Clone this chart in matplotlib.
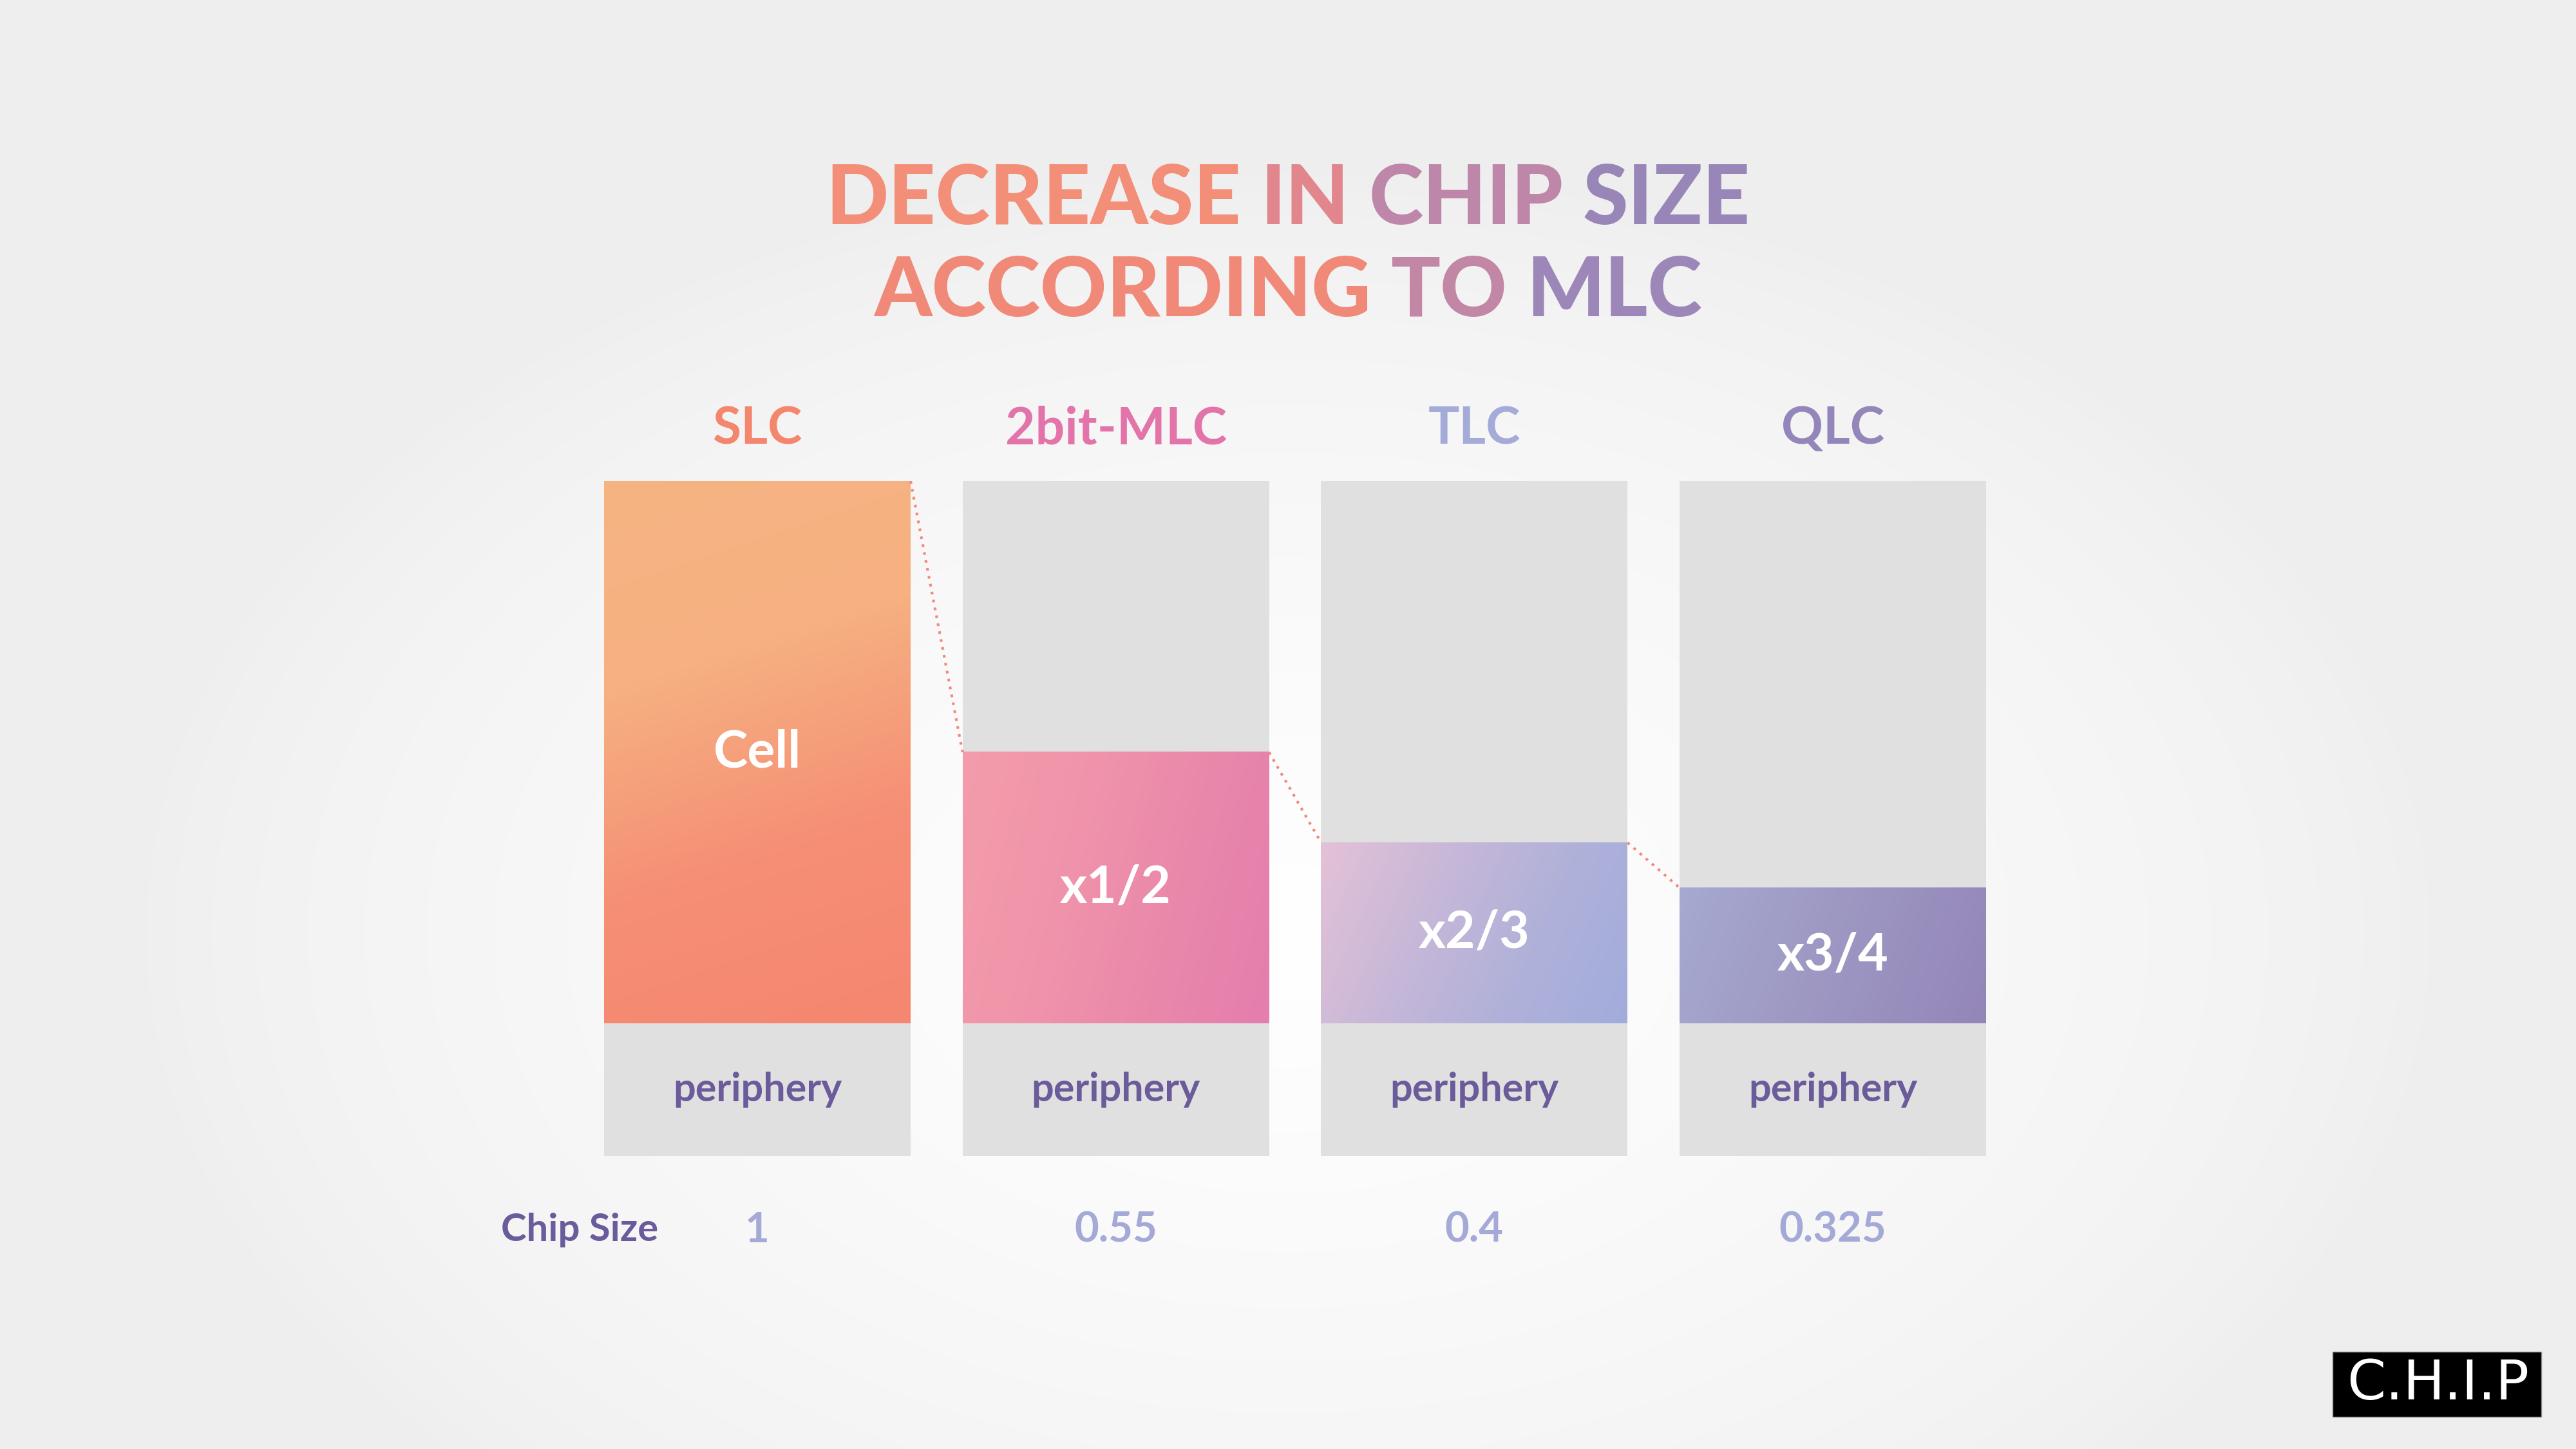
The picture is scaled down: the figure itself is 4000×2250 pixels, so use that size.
import numpy as np
import matplotlib.pyplot as plt
from matplotlib.colors import LinearSegmentedColormap, to_rgb
from matplotlib.patches import Rectangle

# data
cell_types = ['SLC', '2bit-MLC', 'TLC', 'QLC']
cell_labels = ['Cell', 'x1/2', 'x2/3', 'x3/4']
chip_size = [1, 0.55, 0.4, 0.325]
periphery = 0.1
cell_area = [c - periphery for c in chip_size]   # 0.9, 0.45, 0.3, 0.225

# periphery box is not drawn to scale in the original graphic
PERIPH_BOX = 0.22
TOP = PERIPH_BOX + max(cell_area)
BAR_W = 0.855

type_colors = ['#f4866e', '#e374aa', '#a5abd9', '#9486bb']
grad_stops = [
    ['#f6b483', '#f6b081', '#f58f75', '#f5866f'],
    ['#f49caa', '#f094aa', '#ea88ab', '#e47ead'],
    ['#e4c1d7', '#c8b8d8', '#b0b1d9', '#a2acdc'],
    ['#a6a9d1', '#a09dc6', '#9a91bf', '#9486b8'],
]
# how much the gradient leans: weight of horizontal vs vertical (in pixels)
grad_dir = [(0.33, 1.0), (1.0, 0.25), (1.0, 0.45), (1.0, 0.35)]

purple = '#6b5b9b'
value_col = '#a4a9d7'
gray_box = '#e0e0e0'

fig = plt.figure(figsize=(40, 22.5), dpi=100)
fig.patch.set_facecolor('#eeeeee')

# soft radial glow behind the chart
bg = fig.add_axes([0, 0, 1, 1], zorder=0)
gx, gy = np.meshgrid(np.linspace(0, 4000, 400), np.linspace(0, 2250, 225))
r = np.sqrt(((gx - 2000) / 1800) ** 2 + ((gy - 1450) / 1200) ** 2)
w = np.clip(1 - r, 0, 1) ** 0.65
c0, c1 = np.array(to_rgb('#eeeeee')), np.array(to_rgb('#ffffff'))
bg.imshow(c0 + (c1 - c0) * w[..., None], extent=(0, 4000, 2250, 0),
          aspect='auto', interpolation='bilinear')
bg.set_xlim(0, 4000)
bg.set_ylim(2250, 0)
bg.axis('off')

# main axes over the bar area
ax = fig.add_axes([938 / 4000, 1 - 1795 / 2250, 2146 / 4000, 1048 / 2250], zorder=1)
ax.patch.set_alpha(0)
x = np.arange(len(cell_types))

ax.bar(x, TOP, width=BAR_W, bottom=0, color=gray_box, zorder=1)

for i in x:
    x0, x1 = i - BAR_W / 2, i + BAR_W / 2
    y0, y1 = PERIPH_BOX, PERIPH_BOX + cell_area[i]
    nx, ny = 120, max(int(200 * cell_area[i] / 0.9), 20)
    px_w, px_h = BAR_W * 557, cell_area[i] * 936
    u, v = np.meshgrid(np.linspace(0, px_w, nx), np.linspace(0, px_h, ny))
    a, b = grad_dir[i]
    t = (a * u + b * v) / (a * px_w + b * px_h)
    cmap = LinearSegmentedColormap.from_list('g%d' % i, grad_stops[i])
    ax.imshow(cmap(t), extent=(x0, x1, y0, y1), origin='upper', aspect='auto',
              interpolation='bilinear', zorder=2)
    ax.text(i, (y0 + y1) / 2, cell_labels[i], ha='center', va='center',
            color='white', fontsize=58, fontweight='bold', family='Lato', zorder=4)
    ax.text(i, PERIPH_BOX / 2, 'periphery', ha='center', va='center',
            color=purple, fontsize=44, fontweight='bold', family='Lato', zorder=4)
    ax.text(i, TOP + 0.086, cell_types[i], ha='center', va='center',
            color=type_colors[i], fontsize=58, fontweight='bold', family='Lato')
    ax.text(i, -0.123, '%g' % chip_size[i], ha='center', va='center',
            color=value_col, fontsize=47, fontweight='bold', family='Lato')

# dotted connectors between cell tops
for i in x[:-1]:
    ax.plot([i + BAR_W / 2, i + 1 - BAR_W / 2],
            [PERIPH_BOX + cell_area[i], PERIPH_BOX + cell_area[i + 1]],
            color='#f38a78', lw=3, linestyle=(0, (1.0, 2.0)), zorder=3)

ax.text(-0.496, -0.123, 'Chip Size', ha='center', va='center',
        color=purple, fontsize=43, fontweight='bold', family='Lato')

ax.set_xlim(-BAR_W / 2, len(cell_types) - 1 + BAR_W / 2)
ax.set_ylim(0, TOP)
ax.axis('off')

# title with a left-to-right colour gradient, coloured word by word
title_cmap = LinearSegmentedColormap.from_list(
    'title', ['#f7a66e', '#f39078', '#f08479', '#d8879c', '#a088b7', '#9384bb'])
renderer = fig.canvas.get_renderer()


def text_width(s, size):
    t = fig.text(0, 0, s, fontsize=size, fontweight='black', family='Lato')
    wd = t.get_window_extent(renderer).width
    t.remove()
    return wd


def gradient_line(line, y_px, size):
    words = line.split(' ')
    widths = [text_width(wd, size) for wd in words]
    space = text_width('A A', size) - text_width('AA', size)
    total = sum(widths) + space * (len(words) - 1)
    left = 2000 - total / 2
    for word, wd in zip(words, widths):
        cx = left + wd / 2
        col = title_cmap(np.clip((cx - 1300) / 1410, 0, 1))
        fig.text(cx / 4000, 1 - y_px / 2250, word, ha='center', va='center',
                 color=col, fontsize=size, fontweight='black', family='Lato')
        left += wd + space


gradient_line('DECREASE IN CHIP SIZE', 311, 92)
gradient_line('ACCORDING TO MLC', 454, 92)

# logo box
fig.add_artist(Rectangle((3622 / 4000, 1 - 2200 / 2250), 324 / 4000, 101 / 2250,
                         transform=fig.transFigure, facecolor='black',
                         edgecolor='#888888', lw=1, zorder=5))
fig.text(3786 / 4000, 1 - 2150 / 2250, 'C.H.I.P', ha='center', va='center',
         color='white', fontsize=62, fontweight='normal', family='DejaVu Sans',
         zorder=6)

fig.savefig('out.png', dpi=100, facecolor=fig.get_facecolor())
